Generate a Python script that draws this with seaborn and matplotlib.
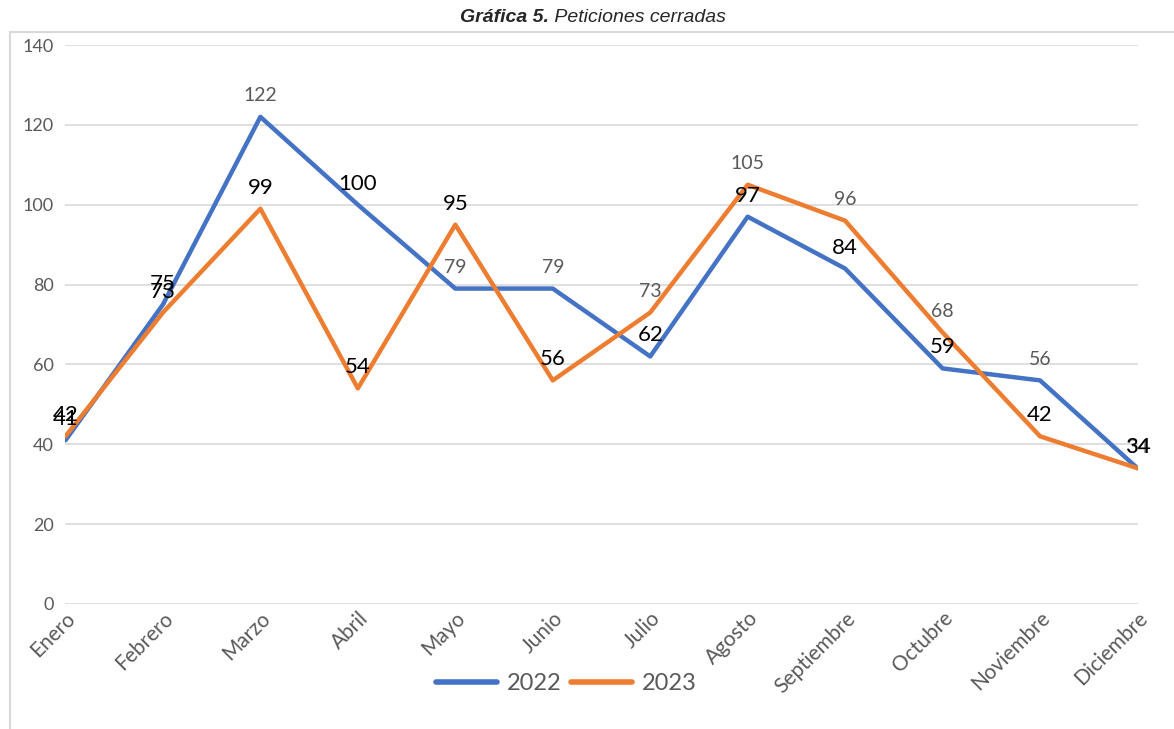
import pandas as pd
import seaborn as sns
import matplotlib.pyplot as plt
from matplotlib.patches import Rectangle
from matplotlib.lines import Line2D

# data
meses = ["Enero", "Febrero", "Marzo", "Abril", "Mayo", "Junio", "Julio",
         "Agosto", "Septiembre", "Octubre", "Noviembre", "Diciembre"]
v2022 = [41, 75, 122, 100, 79, 79, 62, 97, 84, 59, 56, 34]
v2023 = [42, 73, 99, 54, 95, 56, 73, 105, 96, 68, 42, 34]
# which data labels are drawn grey/small (True) vs black/large (False)
gris2022 = [False, False, True, False, True, True, False, False, False, False, True, True]
gris2023 = [False, False, False, False, False, False, True, True, True, True, False, False]

df = pd.DataFrame({
    "mes": meses * 2,
    "valor": v2022 + v2023,
    "anio": ["2022"] * 12 + ["2023"] * 12,
})

sns.set_style("white")
plt.rcParams["font.family"] = ["Lato", "DejaVu Sans"]

fig = plt.figure(figsize=(11.74, 7.29), dpi=100)
ax = fig.add_axes([65 / 1174, 1 - 604 / 729, (1138 - 65) / 1174, (604 - 45) / 729])

sns.lineplot(data=df, x="mes", y="valor", hue="anio", sort=False,
             palette={"2022": "#4472C4", "2023": "#ED7D31"},
             linewidth=3.2, ax=ax, legend=False)

ax.set_ylim(0, 140)
ax.set_xlim(-0.005, 11.005)
ax.set_yticks(range(0, 141, 20))
ax.yaxis.grid(True, color="#d9d9d9", linewidth=1.2)
ax.set_axisbelow(True)
for s in ax.spines.values():
    s.set_visible(False)
ax.set_xlabel("")
ax.set_ylabel("")
ax.tick_params(axis="y", colors="#595959", labelsize=13, length=0, pad=8)
ax.tick_params(axis="x", colors="#595959", labelsize=15, length=0, pad=3)
ax.set_xticks(range(12))
ax.set_xticklabels(meses, rotation=45, ha="right", rotation_mode="anchor")

# data labels
for serie, grises in ((v2022, gris2022), (v2023, gris2023)):
    for i, (v, g) in enumerate(zip(serie, grises)):
        ax.annotate(str(v), (i, v), xytext=(0, 21), textcoords="offset pixels",
                    ha="center", va="center",
                    color="#595959" if g else "black",
                    fontsize=14 if g else 16)

# legend
handles = [Line2D([], [], color="#4472C4", linewidth=4),
           Line2D([], [], color="#ED7D31", linewidth=4)]
fig.legend(handles, ["2022", "2023"], loc="center", ncol=2,
           bbox_to_anchor=(566 / 1174, 1 - 684 / 729), frameon=False,
           fontsize=17, labelcolor="#595959", handlelength=2.6,
           handletextpad=0.4, columnspacing=0.4)

# outer chart frame
fig.patches.append(Rectangle((10 / 1174, -0.05), 1.2, 1 - 32 / 729 + 0.05,
                             transform=fig.transFigure, fill=False,
                             edgecolor="#d9d9d9", linewidth=1.5))

# title
fig.text(549 / 1174, 1 - 18 / 729, "Gráfica 5.", ha="right", va="center",
         fontsize=14, fontweight="bold", fontstyle="italic",
         family="Liberation Sans")
fig.text(549 / 1174, 1 - 18 / 729, " Peticiones cerradas", ha="left", va="center",
         fontsize=14, fontstyle="italic", family="Liberation Sans")

fig.savefig("out.png", dpi=100)
